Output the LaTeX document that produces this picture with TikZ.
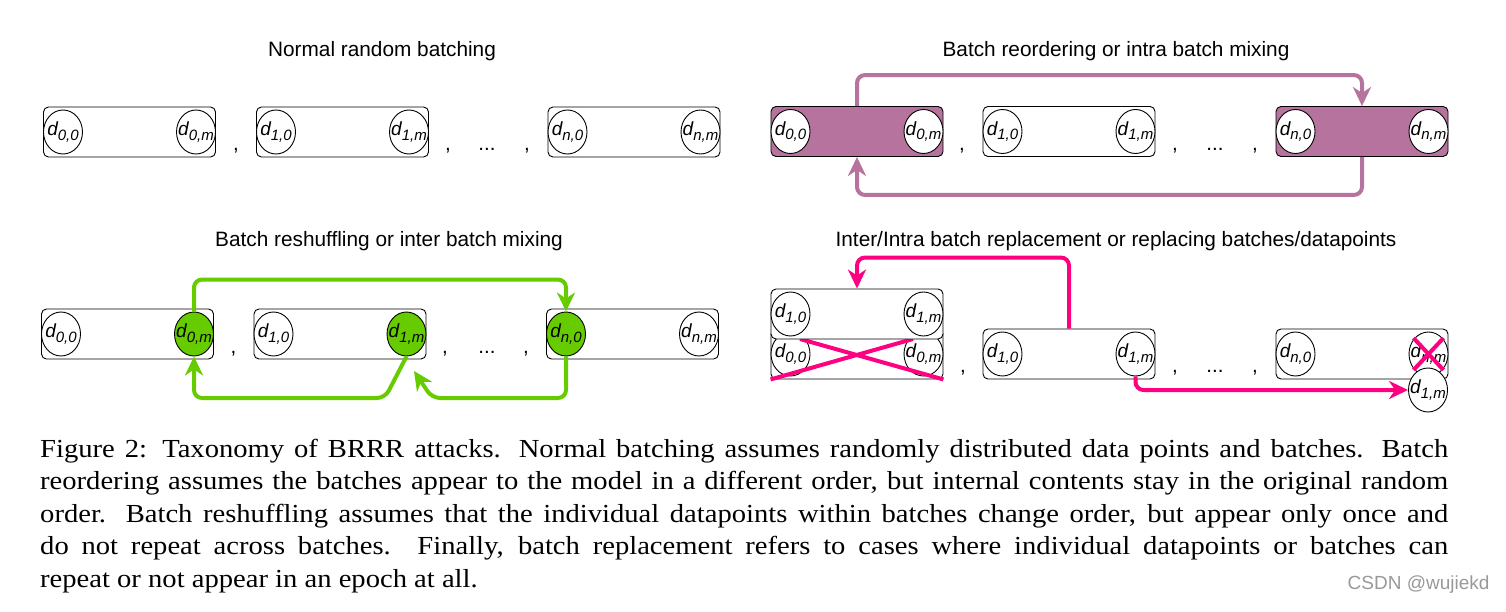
\documentclass[tikz,border=0pt]{standalone}
\usepackage{fontspec}
\setmainfont{Liberation Sans}
\newfontfamily\capfont[FakeStretch=1.1]{Liberation Serif}
\usetikzlibrary{arrows.meta,shapes.geometric}

\definecolor{reorder}{HTML}{B5739D}
\definecolor{reshuffle}{HTML}{66CC00}
\definecolor{replace}{HTML}{FF0080}

% data point label, d with a two part index
\newcommand{\dpt}[2]{\makebox[0pt]{\itshape d\raisebox{-4.5pt}{\fontsize{15}{15}\selectfont #1,#2}}}

\tikzset{
  batch/.style={draw, rounded corners=5pt, fill=white, minimum width=172pt, minimum height=50pt, inner sep=0pt, line width=0.9pt},
  dnode/.style={ellipse, draw, fill=white, minimum width=39pt, minimum height=44pt, inner sep=0pt, line width=0.9pt, font=\fontsize{19}{19}\selectfont},
  ttl/.style={anchor=base, font=\fontsize{20.8}{24}\selectfont},
  sepr/.style={anchor=base, font=\fontsize{20.5}{24}\selectfont},
  flow/.style={line width=4pt, rounded corners=8pt, -{Stealth[length=19pt,width=18pt,inset=6pt]}},
  cross/.style={line width=4pt, replace},
}

\begin{document}
\begin{tikzpicture}[x=1pt, y=-1pt]
\useasboundingbox (0,0) rectangle (1506,612);

% Normal random batching
\node[ttl] (tnormal) at (382,57) {Normal random batching};
\node[batch] (nb0) at (129.5,132) {};
\node[dnode, anchor=west] (n00) at (nb0.west) {\dpt{0}{0}};
\node[dnode, anchor=east] (n0m) at (nb0.east) {\dpt{0}{m}};
\node[batch] (nb1) at (342.5,132) {};
\node[dnode, anchor=west] (n10) at (nb1.west) {\dpt{1}{0}};
\node[dnode, anchor=east] (n1m) at (nb1.east) {\dpt{1}{m}};
\node[batch] (nbn) at (634,132) {};
\node[dnode, anchor=west] (nn0) at (nbn.west) {\dpt{n}{0}};
\node[dnode, anchor=east] (nnm) at (nbn.east) {\dpt{n}{m}};
\node[sepr] (nc1) at (236,151) {,};
\node[sepr] (nc2) at (448,151) {,};
\node[sepr] (nd) at (487,151) {...};
\node[sepr] (nc3) at (527,151) {,};

% Batch reordering
\node[ttl] (treorder) at (1116,57) {Batch reordering or intra batch mixing};
\node[batch, fill=reorder] (ob0) at (857,131.5) {};
\node[dnode, anchor=west] (o00) at (ob0.west) {\dpt{0}{0}};
\node[dnode, anchor=east] (o0m) at (ob0.east) {\dpt{0}{m}};
\node[batch] (ob1) at (1069,131.5) {};
\node[dnode, anchor=west] (o10) at (ob1.west) {\dpt{1}{0}};
\node[dnode, anchor=east] (o1m) at (ob1.east) {\dpt{1}{m}};
\node[batch, fill=reorder] (obn) at (1362,131.5) {};
\node[dnode, anchor=west] (on0) at (obn.west) {\dpt{n}{0}};
\node[dnode, anchor=east] (onm) at (obn.east) {\dpt{n}{m}};
\node[sepr] (oc1) at (962,151) {,};
\node[sepr] (oc2) at (1175,151) {,};
\node[sepr] (od) at (1215,151) {...};
\node[sepr] (oc3) at (1255,151) {,};
\draw[flow, reorder] (ob0.north) -- ++(0,-31) -| (obn.north);
\draw[flow, reorder] (obn.south) -- ++(0,38) -| (ob0.south);

% Batch reshuffling
\node[ttl] (treshuffle) at (389,247) {Batch reshuffling or inter batch mixing};
\node[batch] (sb0) at (127.5,334) {};
\node[dnode, anchor=west] (s00) at (sb0.west) {\dpt{0}{0}};
\node[dnode, anchor=east, fill=reshuffle] (s0m) at (sb0.east) {\dpt{0}{m}};
\node[batch] (sb1) at (340,334) {};
\node[dnode, anchor=west] (s10) at (sb1.west) {\dpt{1}{0}};
\node[dnode, anchor=east, fill=reshuffle] (s1m) at (sb1.east) {\dpt{1}{m}};
\node[batch] (sbn) at (632.5,334) {};
\node[dnode, anchor=west, fill=reshuffle] (sn0) at (sbn.west) {\dpt{n}{0}};
\node[dnode, anchor=east] (snm) at (sbn.east) {\dpt{n}{m}};
\node[sepr] (sc1) at (233.5,353) {,};
\node[sepr] (sc2) at (445,353) {,};
\node[sepr] (sd) at (487,353) {...};
\node[sepr] (sc3) at (526,353) {,};
\coordinate (s1in) at (414,371);
\draw[flow, reshuffle] (s0m.north) -- ++(0,-32) -| (sn0.north);
\draw[flow, reshuffle] (sn0.south) |- (432,398) -- (s1in);
\draw[flow, reshuffle] (s1m.south) -- (385,398) -| (s0m.south);

% Batch replacement
\node[ttl] (treplace) at (1116,247) {Inter/Intra batch replacement or replacing batches/datapoints};
\node[batch] (rl) at (857,354) {};
\node[dnode, anchor=west] (r00) at (rl.west) {\dpt{0}{0}};
\node[dnode, anchor=east] (r0m) at (rl.east) {\dpt{0}{m}};
\draw[cross] (rl.south west) -- (913,339);
\draw[cross] (800,339) -- (rl.south east);
\node[batch] (ru) at (857,314) {};
\node[dnode, anchor=west] (ru0) at (ru.west) {\dpt{1}{0}};
\node[dnode, anchor=east] (rum) at (ru.east) {\dpt{1}{m}};
\node[batch] (rb1) at (1069,354) {};
\node[dnode, anchor=west] (r10) at (rb1.west) {\dpt{1}{0}};
\node[dnode, anchor=east] (r1m) at (rb1.east) {\dpt{1}{m}};
\node[batch] (rbn) at (1362,354) {};
\node[dnode, anchor=west] (rn0) at (rbn.west) {\dpt{n}{0}};
\node[dnode, anchor=east] (rnm) at (rbn.east) {\dpt{n}{m}};
\draw[cross] (rnm.center) ++(-15,-16) -- ++(30,32);
\draw[cross] (rnm.center) ++(15,-16) -- ++(-30,32);
\node[dnode] (rex) at (1428,390) {\dpt{1}{m}};
\node[sepr] (rc1) at (963,372) {,};
\node[sepr] (rc2) at (1175,372) {,};
\node[sepr] (rd) at (1215,372) {...};
\node[sepr] (rc3) at (1255,372) {,};
\draw[flow, replace] (rb1.north) -- ++(0,-71) -| (ru.north);
\draw[flow, replace] (r1m.south) |- (rex.west);

% caption
\node[anchor=north west, inner sep=0pt, text width=1408pt, align=justify,
  font=\capfont\fontsize{26}{32.4}\selectfont] (caption) at (40,439)
  {Figure 2: Taxonomy of BRRR attacks. Normal batching assumes randomly distributed data points and batches. Batch\linebreak
  reordering assumes the batches appear to the model in a different order, but internal contents stay in the original random\linebreak
  order. Batch reshuffling assumes that the individual datapoints within batches change order, but appear only once and\linebreak
  do not repeat across batches. Finally, batch replacement refers to cases where individual datapoints or batches can\linebreak
  repeat or not appear in an epoch at all.};
\node[anchor=base east, text=gray!80, font=\fontsize{19}{19}\selectfont] (mark) at (1493,589) {CSDN @wujiekd};
\end{tikzpicture}
\end{document}
